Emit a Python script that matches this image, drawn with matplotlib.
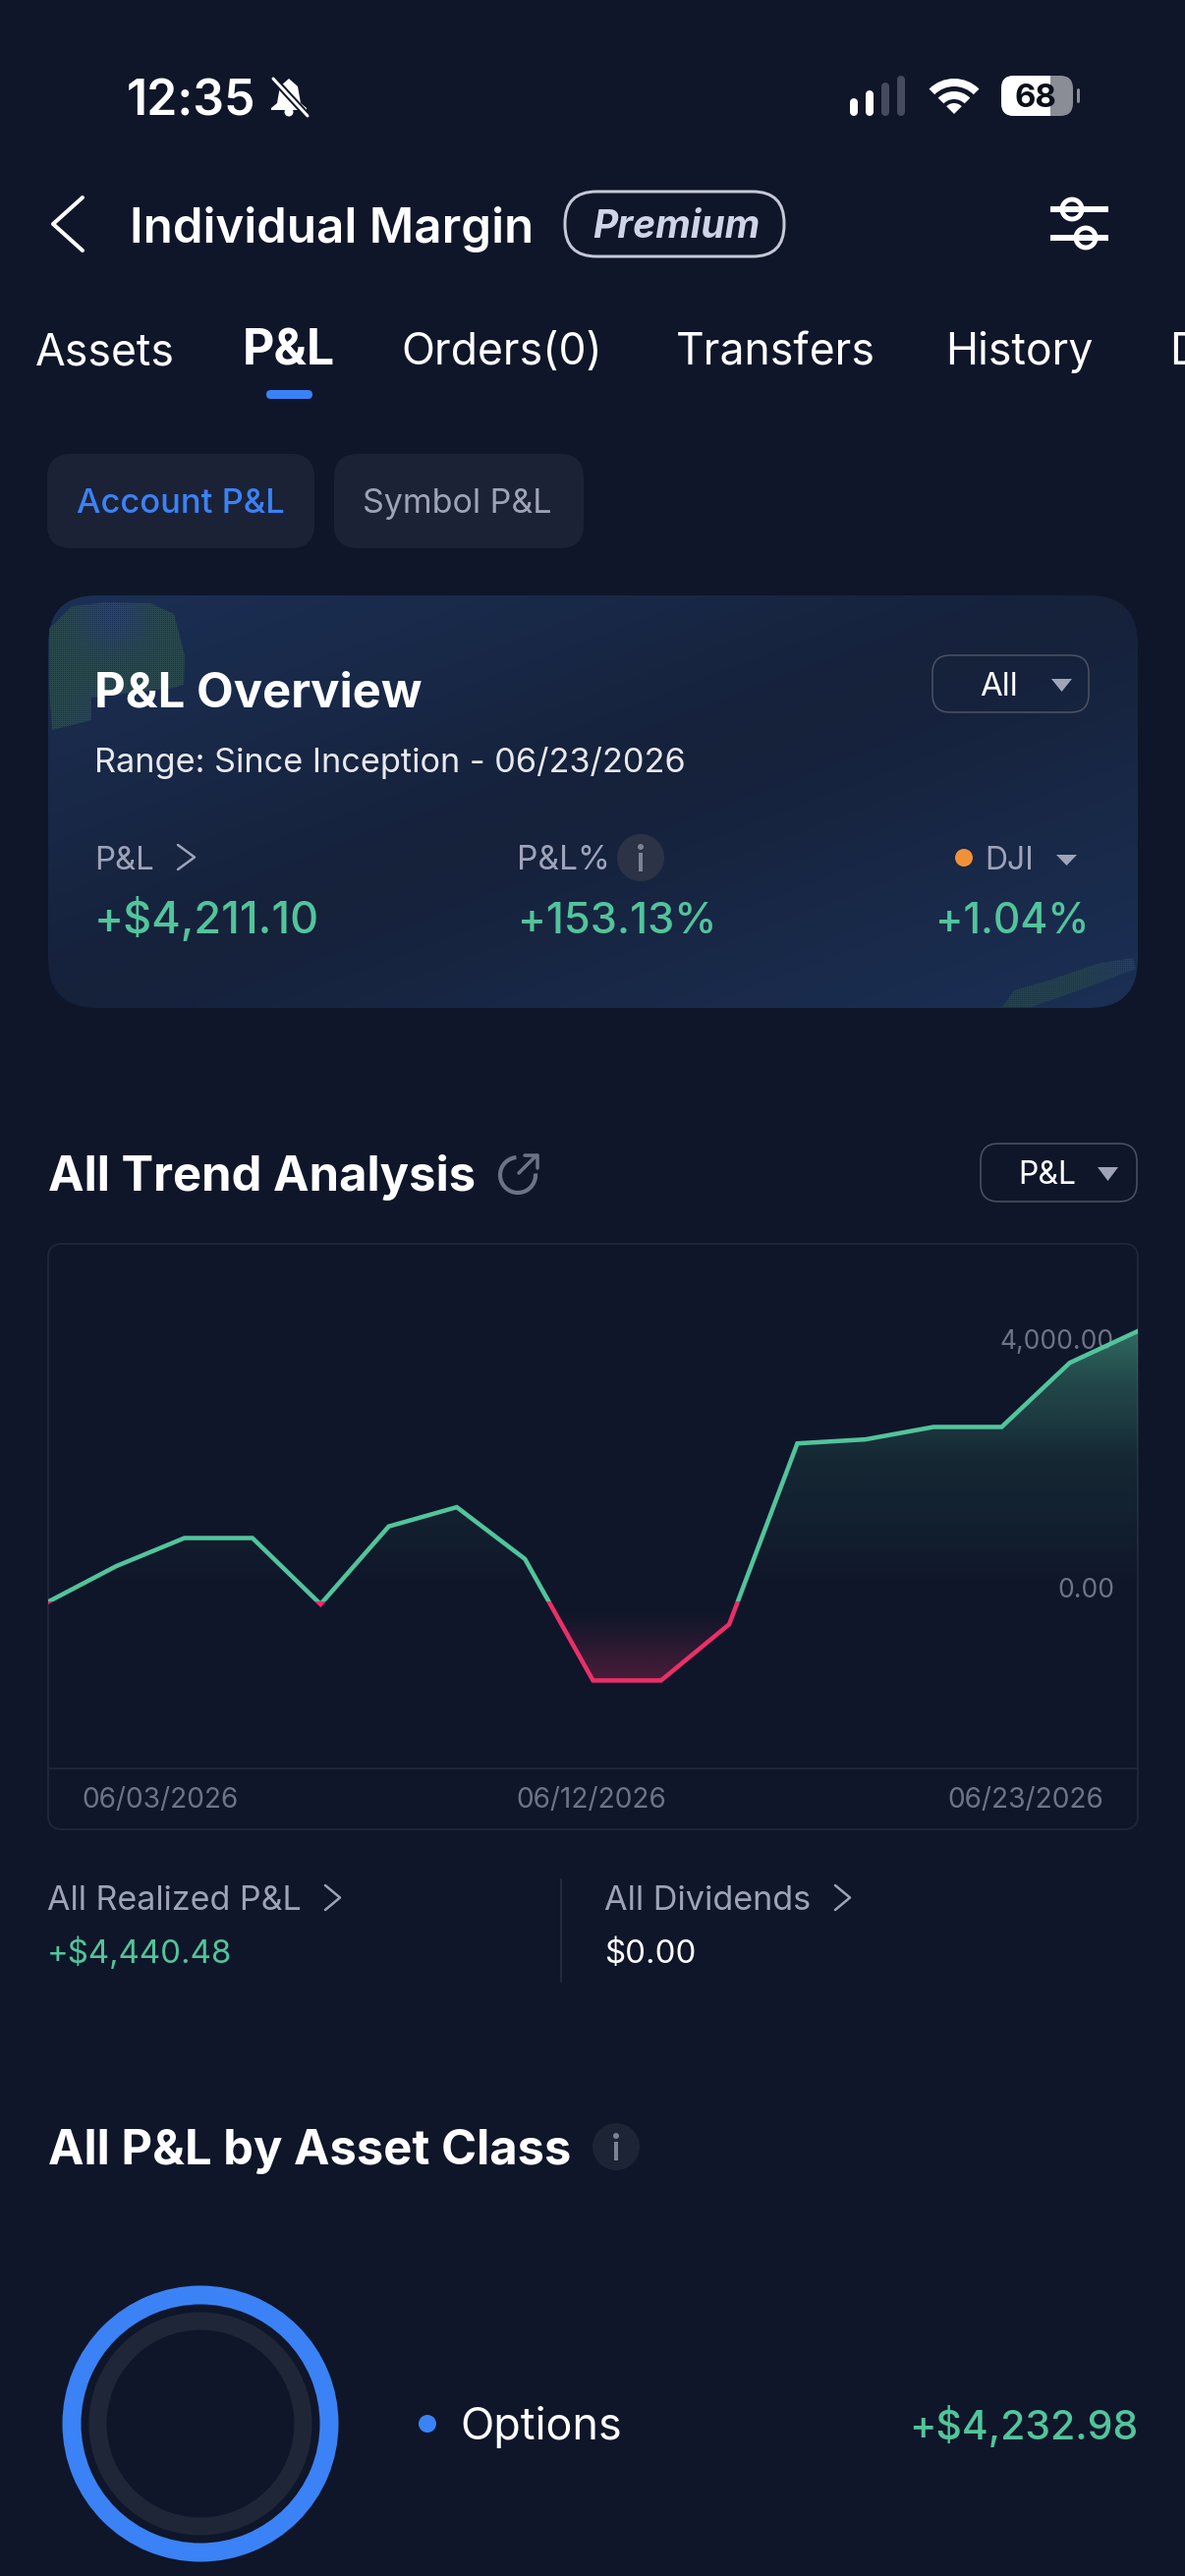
import numpy as np
import matplotlib
matplotlib.use("Agg")
import matplotlib.pyplot as plt
from matplotlib.patches import FancyBboxPatch, Circle, Polygon, Rectangle, Wedge, Arc
from matplotlib.transforms import ScaledTranslation

plt.rcParams['font.family'] = ['Inter', 'DejaVu Sans']

# chart values
trend_pnl = [0, 574, 1026, 1026, -39, 1213, 1523, 690, -1265, -1265, -361, 2548, 2613, 2813, 2813, 3845, 4355]
ytick_vals = [0, 4000]
ytick_labels = ["0.00", "4,000.00"]
date_labels = ["06/03/2026", "06/12/2026", "06/23/2026"]
date_pos = [1.65, 7.97, 14.35]
asset_share = [4232.98]

tabs = ["Assets", "P&L", "Orders(0)", "Transfers", "History", "D"]
tab_x = [36, 247, 408, 688, 962, 1190]

BG = "#0f1629"
GREEN = "#52c49b"
RED = "#ea2f68"
BLUE = "#3b82f6"
GREY = "#9ea3b8"
PILL = "#1b2236"
BORDER = "#1e2538"

fig = plt.figure(figsize=(12.06, 26.22), dpi=100, facecolor=BG)
ax = fig.add_axes([0, 0, 1, 1])
ax.set_facecolor(BG)


def T(x, y, s, px, color="white", weight=400, ha="left", **kw):
    return ax.text(x, y, s, fontsize=px * 0.72, color=color, fontweight=weight, ha=ha, va="baseline", **kw)


def L(xs, ys, color="white", w=3.0, **kw):
    ax.plot(xs, ys, color=color, lw=w * 0.72, solid_capstyle=kw.pop("cap", "round"), solid_joinstyle="round", **kw)


def box(x0, y0, x1, y1, r, fc="none", ec="none", w=0, **kw):
    p = FancyBboxPatch((x0 + r, y0 + r), x1 - x0 - 2 * r, y1 - y0 - 2 * r, boxstyle="round,pad=%g,rounding_size=%g" % (r, r),
                       fc=fc, ec=ec, lw=w * 0.72, **kw)
    ax.add_patch(p)
    return p


def chevron(x0, x1, y0, y1, color=GREY, w=2.5):
    L([x0, x1, x0], [y0, (y0 + y1) / 2, y1], color, w)


def tri(x0, x1, y0, y1, color="#a0a4b8"):
    ax.add_patch(Polygon([(x0, y0), (x1, y0), ((x0 + x1) / 2, y1)], closed=True, fc=color, ec="none", zorder=3))


def info(cx, cy, fc):
    ax.add_patch(Circle((cx, cy), 24, fc=fc, ec="none", zorder=3))
    ax.add_patch(Circle((cx, cy - 11), 3, fc="#7d8296", ec="none", zorder=4))
    ax.plot([cx, cx], [cy - 3, cy + 12], color="#7d8296", lw=4 * 0.72, zorder=4)


def speckle(pts, alpha):
    # dithered patch of the card artwork
    xs = [p[0] for p in pts]
    ys = [p[1] for p in pts]
    x0, x1, y0, y1 = int(min(xs)), int(max(xs)) + 1, int(min(ys)), int(max(ys)) + 1
    jj, ii = np.meshgrid(np.arange(x1 - x0), np.arange(y1 - y0))
    tex = np.zeros((y1 - y0, x1 - x0, 4))
    tex[:, :, :3] = np.array([0x2a, 0x4a, 0x4c]) / 255
    tex[(ii % 2 == 0) & (jj % 2 == 0), :3] = np.array([0x1c, 0x32, 0x5c]) / 255
    tex[:, :, 3] = alpha
    img = ax.imshow(tex, extent=(x0, x1, y1, y0), aspect="auto", interpolation="nearest", zorder=1.5)
    img.set_clip_path(Polygon(pts, closed=True, transform=ax.transData))


# status bar
T(129, 117, "12:35", 50, weight=600)
ax.add_patch(Polygon([(294, 80), (303, 88), (306, 105), (312, 110), (312, 112), (276, 112), (276, 110), (282, 105), (285, 88)],
                     closed=True, fc="white", ec="none"))
ax.add_patch(Circle((294, 114), 4.5, fc="white", ec="none"))
L([278, 313], [80, 118], BG, 7)
L([278, 313], [80, 118], "white", 3)
for bx, by, c in [(869, 104, "white"), (885, 96, "white"), (901, 88, "#454b5c"), (917, 81, "#454b5c")]:
    L([bx, bx], [by, 114], c, 8)
for r, wd in [(36, 8), (23, 8)]:
    ax.add_patch(Wedge((971, 116), r, 225, 315, width=wd, fc="white", ec="none"))
ax.add_patch(Wedge((971, 116), 11, 225, 315, fc="white", ec="none"))
box(1019, 77, 1092, 118, 13, fc="#8a8d96")
bat = box(1019, 77, 1092, 118, 13, fc="white")
bat.set_clip_path(Rectangle((1019, 77), 50, 41, transform=ax.transData))
L([1097, 1097], [91, 103], "#8a8d96", 3)
T(1054, 109, "68", 33, color="#0b0f1a", weight=700, ha="center")

# header
L([84, 54, 84], [201, 228, 255], "white", 4)
T(132, 247, "Individual Margin", 49.3, weight=600)
box(575, 195, 798, 261, 32, ec="#c5c8d6", w=3)
T(603, 242, "Premium", 39, color="#d0d4e8", weight=700, style="italic")
L([1069, 1128], [213, 213], "white", 6, cap="butt")
L([1069, 1128], [242, 242], "white", 6, cap="butt")
ax.add_patch(Circle((1091, 213), 10, fc=BG, ec="white", lw=3.5))
ax.add_patch(Circle((1105, 242), 10, fc=BG, ec="white", lw=3.5))

# tabs
for name, x in zip(tabs, tab_x):
    sel = name == "P&L"
    t = T(x, 371, name, 50 if sel else 44.5, weight=700 if sel else 400)
    t.set_clip_on(True)
box(271, 397, 318, 406, 4.5, fc=BLUE)

box(48, 462, 320, 558, 24, fc=PILL)
T(78, 522, "Account P&L", 34.5, color=BLUE, weight=500)
box(340, 462, 594, 558, 24, fc=PILL)
T(369, 522, "Symbol P&L", 34, color=GREY)

# overview card
gx, gy = np.meshgrid(np.linspace(0, 1, 220), np.linspace(0, 1, 120))
d = np.abs((gx + gy) / 2 - 0.5) * 2
c_mid = np.array([0x16, 0x21, 0x3a]) / 255
c_edge = np.array([0x1b, 0x30, 0x55]) / 255
grad = c_mid[None, None, :] + (c_edge - c_mid)[None, None, :] * d[:, :, None]
im = ax.imshow(grad, extent=(49, 1158, 1026, 606), aspect="auto", interpolation="bilinear", zorder=1)
card = box(49, 606, 1158, 1026, 50, zorder=0)
im.set_clip_path(card)
speckle([(50, 640), (73, 617), (107, 613), (153, 614), (177, 625), (188, 667), (187, 697), (177, 700),
         (93, 710), (93, 733), (53, 743), (50, 700)], 0.95)
speckle([(1020, 1025), (1032, 1008), (1070, 997), (1120, 980), (1153, 975), (1156, 986), (1120, 1000),
         (1075, 1016), (1050, 1025)], 0.7)

T(96, 719, "P&L Overview", 49, weight=700, zorder=3)
box(949, 667, 1108, 725, 18, ec="#4a5060", w=1.6, zorder=2)
T(997, 708, "All", 33)
tri(1070, 1091, 691, 704)
T(96, 786, "Range: Since Inception - 06/23/2026", 34.3, color="#e8e9ef")
T(96, 885, "P&L", 33, color=GREY)
chevron(181, 198, 860, 885)
T(526, 885, "P&L%", 33.5, color=GREY)
info(652, 873, "#2c3347")
ax.add_patch(Circle((981, 873), 9, fc="#f0913a", ec="none", zorder=3))
T(1002, 885, "DJI", 32, color=GREY)
tri(1075, 1096, 870, 881)
T(96, 950, "+$4,211.10", 45, color=GREEN, weight=500)
T(527, 950, "+153.13%", 43.5, color=GREEN, weight=500)
T(1108, 950, "+1.04%", 42.5, color=GREEN, weight=500, ha="right")

# trend header
T(49, 1212, "All Trend Analysis", 49, weight=700)
ax.add_patch(Arc((527, 1196), 36, 36, theta1=-5, theta2=265, ec="#6d7385", lw=3))
L([528, 546], [1194, 1176], "#6d7385", 3.5)
L([534, 547, 547], [1176, 1176, 1189], "#6d7385", 3.5)
box(998, 1164, 1157, 1223, 18, ec="#4a5060", w=1.6)
T(1036, 1205, "P&L", 32)
tri(1117, 1138, 1188, 1202)

# chart card frame
box(49, 1266, 1158, 1862, 14, ec=BORDER, w=2)

# bottom stats
T(48, 1944, "All Realized P&L", 34, color=GREY)
chevron(331, 346, 1919, 1944)
T(48, 1998, "+$4,440.48", 33, color=GREEN)
L([571, 571], [1913, 2017], "#232a3c", 2)
T(615, 1944, "All Dividends", 34.2, color=GREY)
chevron(850, 865, 1919, 1944)
T(615, 1998, "$0.00", 33, color="white")
T(49, 2203, "All P&L by Asset Class", 48.9, weight=700)
info(627, 2185, "#1d2436")

# donut
ax.add_patch(Circle((204, 2467), 104.5, fc="none", ec="#1f2638", lw=18 * 0.72))
ax.pie(asset_share, colors=[BLUE], center=(204, 2467), radius=140.5, frame=True,
       wedgeprops=dict(width=19, linewidth=0))
ax.add_patch(Circle((435, 2467), 9, fc=BLUE, ec="none"))
T(468, 2483, "Options", 45)
T(1158, 2483, "+$4,232.98", 41, color=GREEN, weight=500, ha="right")

ax.set_xlim(0, 1206)
ax.set_ylim(2622, 0)
ax.set_aspect("auto")
ax.axis("off")

# trend chart, own axes over the card
W, H = 1206.0, 2622.0
ch = fig.add_axes([49 / W, 1 - 1800 / H, 1109 / W, 534 / H], facecolor="none")
days = np.arange(len(trend_pnl))
vals = np.array(trend_pnl, dtype=float)

ys = np.linspace(-1300, 4400, 400)
rgba = np.zeros((len(ys), 2, 4))
rgba[:, :, :3] = matplotlib.colors.to_rgb(GREEN)
rgba[ys < 0, :, :3] = matplotlib.colors.to_rgb(RED)
alpha = np.interp(ys, [-1300, -1150, -600, -150, 0, 200, 1500, 2300, 3000, 3500, 4400],
                  [0.26, 0.24, 0.10, 0.0, 0.0, 0.0, 0.07, 0.10, 0.22, 0.28, 0.5])
rgba[:, :, 3] = np.column_stack([alpha, alpha])
area = ch.fill_between(days, vals, 0, facecolor="none", edgecolor="none")
fill = ch.imshow(rgba, extent=(0, len(trend_pnl) - 1, -1300, 4400), origin="lower", aspect="auto", interpolation="bilinear")
fill.set_clip_path(area.get_paths()[0], transform=ch.transData)
ch.set_xlim(0, len(trend_pnl) - 1)
ch.set_ylim(-2680, 5760)

up, = ch.plot(days, vals, color=GREEN, lw=4.5 * 0.72, solid_joinstyle="miter")
dn, = ch.plot(days, vals, color=RED, lw=4.5 * 0.72, solid_joinstyle="miter")
up.set_clip_path(Rectangle((0, 0), 16, 6000, transform=ch.transData))
dn.set_clip_path(Rectangle((0, -3000), 16, 3000, transform=ch.transData))

ch.yaxis.tick_right()
ch.set_yticks(ytick_vals)
ch.set_yticklabels(ytick_labels, fontsize=26.5 * 0.72, color="#6e7387", ha="right", va="bottom")
ch.tick_params(axis="y", length=0, pad=-24 * 0.72)
# labels sit a little lower in the reference
shift = ScaledTranslation(0, -1 / 72, fig.dpi_scale_trans)
for lab in ch.get_yticklabels():
    lab.set_transform(lab.get_transform() + shift)
ch.set_xticks(date_pos)
ch.set_xticklabels(date_labels, fontsize=28 * 0.72, color="#6e7387")
ch.tick_params(axis="x", length=0, pad=19 * 0.72)
for s in ["top", "left", "right"]:
    ch.spines[s].set_visible(False)
ch.spines["bottom"].set_color(BORDER)
ch.spines["bottom"].set_linewidth(2 * 0.72)

fig.savefig("out.png", dpi=100, facecolor=BG)
